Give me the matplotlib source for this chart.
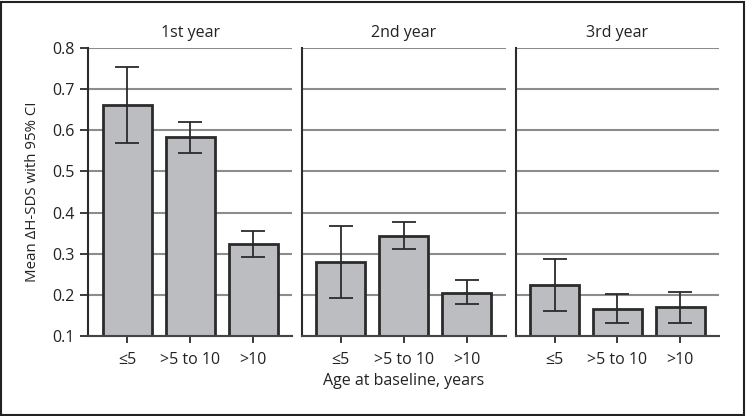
import matplotlib
matplotlib.use('Agg')
import matplotlib.pyplot as plt
from matplotlib.patches import Rectangle

plt.rcParams['font.family'] = ['Open Sans', 'DejaVu Sans']

# data
panels = ['1st year', '2nd year', '3rd year']
groups = ['\u22645', '>5 to 10', '>10']
means = [[0.661, 0.584, 0.324],
         [0.279, 0.343, 0.204],
         [0.224, 0.166, 0.171]]
ci_low = [[0.569, 0.545, 0.291],
          [0.191, 0.312, 0.176],
          [0.160, 0.130, 0.131]]
ci_high = [[0.754, 0.620, 0.356],
           [0.368, 0.377, 0.235],
           [0.287, 0.202, 0.207]]
yticks = [0.1, 0.2, 0.3, 0.4, 0.5, 0.6, 0.7, 0.8]

W, H = 746, 416
fig = plt.figure(figsize=(W / 100, H / 100), dpi=100)

# axes pixel boxes (left, right)
lefts = [88.3, 301.7, 515.7]
rights = [292.0, 505.7, 719.0]
top_px, bot_px = 48.3, 335.7

dark = '#2b2b2b'
grid_c = '#8c8c8c'
bar_c = '#bcbdc1'

axes = []
for i in range(3):
    ax = fig.add_axes([lefts[i] / W, 1 - bot_px / H, (rights[i] - lefts[i]) / W, (bot_px - top_px) / H])
    axes.append(ax)
    x = list(range(len(groups)))
    lo = [m - l for m, l in zip(means[i], ci_low[i])]
    hi = [h - m for m, h in zip(means[i], ci_high[i])]
    ax.bar(x, [m - 0.1 for m in means[i]], bottom=0.1, width=0.78, color=bar_c,
           edgecolor=dark, linewidth=2, zorder=2)
    ax.errorbar(x, means[i], yerr=[lo, hi], fmt='none', ecolor=dark, elinewidth=1.3,
                capsize=8.6, capthick=1.3, zorder=3)
    ax.set_xlim(-0.62, 2.62)
    ax.set_ylim(0.1, 0.8)
    ax.set_yticks(yticks)
    ax.yaxis.grid(True, color=grid_c, linewidth=1.5, zorder=0)
    ax.set_axisbelow(True)
    ax.set_xticks(x)
    ax.set_xticklabels(groups, fontsize=11.5, color='#222222')
    ax.tick_params(axis='x', length=5, width=1.3, color=dark, pad=7)
    for s in ['top', 'right']:
        ax.spines[s].set_visible(False)
    ax.spines['left'].set_color(dark)
    ax.spines['left'].set_linewidth(1.5)
    ax.spines['bottom'].set_color('#444444')
    ax.spines['bottom'].set_linewidth(1.5)
    ax.set_title(panels[i], fontsize=11.5, color='#222222', pad=8)
    if i == 0:
        ax.set_yticklabels(['%.1f' % t for t in yticks], fontsize=11.5, color='#222222')
        ax.tick_params(axis='y', length=6, width=1.3, color=dark, pad=4)
        ax.set_ylabel('Mean \u0394H-SDS with 95% CI', fontsize=10.8, color='#222222', labelpad=9)
    else:
        ax.tick_params(axis='y', length=0, labelleft=False)

axes[1].set_xlabel('Age at baseline, years', fontsize=11.5, color='#222222', labelpad=3)

fig.patches.append(Rectangle((0.5 / W, 1.5 / H), (W - 2.5) / W, (H - 3) / H, transform=fig.transFigure,
                             fill=False, edgecolor='#222222', linewidth=1.5))

fig.savefig('out.png', dpi=100)
